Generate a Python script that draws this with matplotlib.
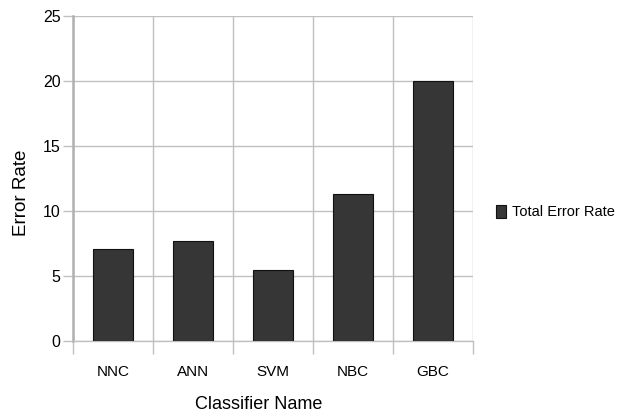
import matplotlib.pyplot as plt
from matplotlib.patches import Patch
import numpy as np

classifiers = ["NNC", "ANN", "SVM", "NBC", "GBC"]
error_rate = [7.1, 7.7, 5.5, 11.3, 20.0]
y_ticks = [0, 5, 10, 15, 20, 25]

plt.rcParams['font.family'] = ['Liberation Sans Narrow', 'Liberation Sans', 'DejaVu Sans']

fig = plt.figure(figsize=(6.21, 4.15), dpi=100)
ax = fig.add_axes([73 / 621, (415 - 341) / 415, 400 / 621, 325 / 415])

grid_col = "#c0c0c0"
x = np.arange(len(classifiers))
ax.bar(x, error_rate, width=0.5, color="#363636", edgecolor="#111111", linewidth=0.8, zorder=3)

ax.set_xlim(-0.5, len(classifiers) - 0.5)
ax.set_ylim(0, 25)
ax.set_yticks(y_ticks)
ax.set_xticks(x)
ax.set_xticklabels(classifiers)
ax.set_xticks(np.arange(len(classifiers) + 1) - 0.5, minor=True)

ax.tick_params(axis="x", which="major", length=0, pad=17, labelsize=11)
ax.tick_params(axis="x", which="minor", length=9, color=grid_col, width=1)
ax.tick_params(axis="y", length=7, color=grid_col, width=1, labelsize=11.5, pad=2)

ax.grid(axis="y", color=grid_col, linewidth=1, zorder=0)
ax.grid(axis="x", which="minor", color=grid_col, linewidth=1, zorder=0)

for side in ["top", "right"]:
    ax.spines[side].set_visible(False)
ax.spines["left"].set_color("#b0b0b0")
ax.spines["left"].set_linewidth(1.8)
ax.spines["bottom"].set_color(grid_col)
ax.spines["bottom"].set_linewidth(1)

xl = ax.set_xlabel("Classifier Name", fontsize=13)
xl.set_va("center")
ax.xaxis.set_label_coords((259 - 73) / 400, (341 - 404) / 325)
yl = ax.set_ylabel("Error Rate", fontsize=13.5)
yl.set_va("center")
yl.set_ha("center")
ax.yaxis.set_label_coords((21 - 73) / 400, (341 - 193) / 325)

handle = Patch(facecolor="#363636", edgecolor="#111111", linewidth=0.8)
fig.legend([handle], ["Total Error Rate"], loc="center left",
           bbox_to_anchor=(483 / 621, 1 - 212 / 415), frameon=False,
           fontsize=10.5, handlelength=0.7, handleheight=1.0, handletextpad=0.4)

fig.savefig("out.png", dpi=100)
